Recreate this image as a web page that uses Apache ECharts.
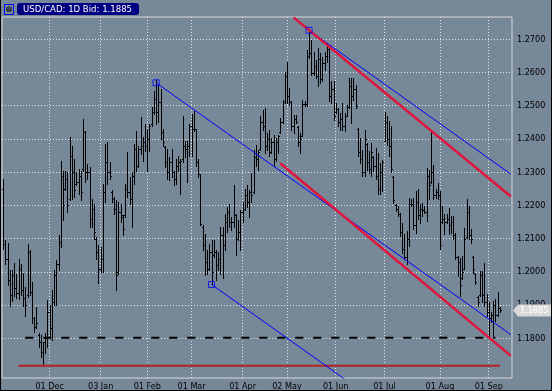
<!DOCTYPE html>
<html><head><meta charset="utf-8">
<script src="https://cdn.jsdelivr.net/npm/echarts@6/dist/echarts.min.js"></script>
<style>html,body{margin:0;padding:0;background:#778899;}#c{width:552px;height:391px;}</style>
</head><body><div id="c"></div>
<script>
// ---- data (USD/CAD daily, one entry per trading-day slot) ----
const opens = [
1.2250,1.2085,1.2040,1.1975,1.1930,1.1990,1.1950,1.1935,1.2010,1.1945,
1.1920,1.1930,1.2060,1.1940,1.1860,1.1835,1.1810,1.1790,1.1760,1.1790,
1.1800,1.1880,1.1830,1.1910,1.1990,1.2025,1.2090,1.2290,1.2250,1.2280,
1.2220,1.2350,1.2300,1.2265,1.2270,1.2290,1.2310,1.2420,1.2300,1.2300,
1.2160,1.2190,1.2100,1.2060,1.2010,1.2040,1.2240,1.2330,1.2300,1.2240,
1.2220,1.2190,1.2000,1.2180,1.2165,1.2170,1.2250,1.2240,1.2220,1.2290,
1.2370,1.2320,1.2370,1.2380,1.2390,1.2380,1.2400,1.2445,1.2480,1.2520,
1.2480,1.2510,1.2420,1.2375,1.2330,1.2300,1.2330,1.2300,1.2280,1.2320,
1.2330,1.2340,1.2380,1.2370,1.2380,1.2440,1.2430,1.2430,1.2330,1.2295,
1.2135,1.2080,1.2030,1.2010,1.2060,1.2050,1.2060,1.2020,1.2040,1.2110,
1.2080,1.2150,1.2180,1.2150,1.2150,1.2170,1.2100,1.2120,1.2180,1.2190,
1.2230,1.2210,1.2240,1.2240,1.2345,1.2340,1.2370,1.2450,1.2440,1.2380,
1.2400,1.2360,1.2390,1.2340,1.2390,1.2420,1.2450,1.2510,1.2590,1.2530,
1.2510,1.2440,1.2460,1.2435,1.2390,1.2410,1.2505,1.2505,1.2650,1.2660,
1.2600,1.2620,1.2590,1.2640,1.2580,1.2630,1.2650,1.2670,1.2530,1.2550,
1.2480,1.2490,1.2450,1.2460,1.2440,1.2470,1.2495,1.2560,1.2530,1.2550,
1.2430,1.2360,1.2340,1.2300,1.2385,1.2330,1.2310,1.2345,1.2320,1.2290,
1.2250,1.2300,1.2395,1.2450,1.2400,1.2380,1.2285,1.2200,1.2190,1.2175,
1.2120,1.2070,1.2045,1.2100,1.2205,1.2205,1.2140,1.2210,1.2170,1.2190,
1.2185,1.2180,1.2290,1.2270,1.2300,1.2230,1.2240,1.2230,1.2150,1.2160,
1.2150,1.2160,1.2140,1.2150,1.2110,1.2045,1.2030,1.1980,1.2010,1.2105,
1.2180,1.2110,1.2045,1.1995,1.1925,1.1930,1.1990,1.1930,1.1910,1.1880,
1.1860,1.1870,1.1900,1.1870,1.1890];
const highs = [
1.2280,1.2095,1.2087,1.2005,1.2005,1.2027,1.1995,1.2040,1.2025,1.1997,
1.1955,1.2085,1.2065,1.1970,1.1865,1.1895,1.1815,1.1810,1.1790,1.1815,
1.1915,1.1900,1.1945,1.2005,1.2035,1.2110,1.2335,1.2305,1.2305,1.2300,
1.2405,1.2380,1.2340,1.2300,1.2310,1.2305,1.2460,1.2425,1.2325,1.2315,
1.2220,1.2205,1.2105,1.2080,1.2075,1.2265,1.2385,1.2390,1.2330,1.2245,
1.2225,1.2215,1.2210,1.2205,1.2170,1.2265,1.2360,1.2285,1.2300,1.2385,
1.2425,1.2380,1.2465,1.2405,1.2445,1.2430,1.2445,1.2495,1.2545,1.2577,
1.2565,1.2550,1.2430,1.2380,1.2370,1.2345,1.2370,1.2305,1.2340,1.2350,
1.2340,1.2470,1.2395,1.2395,1.2445,1.2475,1.2485,1.2430,1.2340,1.2295,
1.2140,1.2115,1.2065,1.2085,1.2095,1.2095,1.2065,1.2060,1.2135,1.2135,
1.2175,1.2195,1.2205,1.2165,1.2260,1.2175,1.2155,1.2185,1.2210,1.2250,
1.2260,1.2245,1.2298,1.2368,1.2383,1.2368,1.2468,1.2488,1.2493,1.2418,
1.2428,1.2403,1.2413,1.2403,1.2413,1.2463,1.2518,1.2603,1.2633,1.2553,
1.2513,1.2473,1.2473,1.2438,1.2418,1.2518,1.2513,1.2668,1.2728,1.2698,
1.2663,1.2638,1.2673,1.2658,1.2648,1.2663,1.2688,1.2678,1.2573,1.2573,
1.2508,1.2493,1.2478,1.2508,1.2478,1.2503,1.2583,1.2583,1.2583,1.2563,
1.2433,1.2403,1.2368,1.2428,1.2388,1.2363,1.2388,1.2348,1.2373,1.2358,
1.2328,1.2338,1.2480,1.2470,1.2455,1.2440,1.2288,1.2203,1.2198,1.2178,
1.2148,1.2113,1.2123,1.2223,1.2218,1.2223,1.2243,1.2248,1.2203,1.2208,
1.2198,1.2313,1.2308,1.2423,1.2323,1.2248,1.2268,1.2243,1.2198,1.2173,
1.2173,1.2193,1.2168,1.2168,1.2118,1.2048,1.2043,1.2048,1.2133,1.2218,
1.2198,1.2128,1.2048,1.1998,1.1928,1.2003,1.2003,1.2028,1.1933,1.1908,
1.1878,1.1913,1.1918,1.1938,1.1893];
const lows = [
1.2070,1.2025,1.1960,1.1897,1.1913,1.1927,1.1920,1.1917,1.1930,1.1897,
1.1867,1.1925,1.1930,1.1845,1.1820,1.1830,1.1775,1.1745,1.1720,1.1755,
1.1775,1.1800,1.1795,1.1900,1.1900,1.2005,1.2075,1.2155,1.2245,1.2180,
1.2215,1.2220,1.2225,1.2260,1.2235,1.2215,1.2305,1.2270,1.2280,1.2135,
1.2135,1.2100,1.2040,1.1965,1.2000,1.2000,1.2210,1.2265,1.2280,1.2210,
1.2175,1.1945,1.1995,1.2150,1.2110,1.2165,1.2225,1.2205,1.2135,1.2265,
1.2305,1.2315,1.2355,1.2335,1.2365,1.2305,1.2365,1.2440,1.2475,1.2445,
1.2450,1.2400,1.2380,1.2315,1.2280,1.2275,1.2285,1.2260,1.2265,1.2305,
1.2235,1.2330,1.2345,1.2270,1.2350,1.2350,1.2425,1.2320,1.2285,1.2140,
1.2065,1.1990,1.1995,1.2005,1.1962,1.2045,1.1975,1.2005,1.1995,1.1980,
1.2065,1.2120,1.2135,1.2125,1.2135,1.2050,1.2095,1.2065,1.2150,1.2185,
1.2195,1.2165,1.2210,1.2238,1.2318,1.2308,1.2368,1.2428,1.2358,1.2368,
1.2348,1.2358,1.2318,1.2333,1.2358,1.2418,1.2448,1.2508,1.2508,1.2503,
1.2428,1.2418,1.2448,1.2378,1.2358,1.2408,1.2498,1.2498,1.2643,1.2593,
1.2593,1.2583,1.2558,1.2568,1.2573,1.2608,1.2633,1.2513,1.2508,1.2458,
1.2478,1.2438,1.2428,1.2428,1.2423,1.2468,1.2493,1.2448,1.2518,1.2493,
1.2348,1.2328,1.2288,1.2288,1.2308,1.2298,1.2288,1.2303,1.2278,1.2233,
1.2233,1.2243,1.2393,1.2383,1.2348,1.2300,1.2208,1.2183,1.2168,1.2108,
1.2058,1.2038,1.2023,1.2078,1.2198,1.2128,1.2118,1.2158,1.2148,1.2168,
1.2178,1.2153,1.2218,1.2268,1.2218,1.2223,1.2218,1.2068,1.2148,1.2113,
1.2148,1.2113,1.2118,1.2098,1.2040,1.1988,1.1928,1.1978,1.2008,1.2103,
1.2098,1.2088,1.1998,1.1963,1.1898,1.1928,1.1908,1.1898,1.1868,1.1808,
1.1848,1.1808,1.1853,1.1868,1.1880];
const closes = [
1.2085,1.2040,1.1975,1.1930,1.1990,1.1950,1.1935,1.2010,1.1945,1.1920,
1.1900,1.2060,1.1940,1.1860,1.1835,1.1845,1.1790,1.1760,1.1790,1.1800,
1.1880,1.1830,1.1910,1.1990,1.2025,1.2090,1.2290,1.2200,1.2280,1.2200,
1.2350,1.2300,1.2245,1.2270,1.2290,1.2240,1.2420,1.2300,1.2300,1.2160,
1.2190,1.2120,1.2060,1.2010,1.2040,1.2240,1.2330,1.2300,1.2290,1.2220,
1.2190,1.1990,1.2180,1.2170,1.2130,1.2250,1.2240,1.2220,1.2290,1.2370,
1.2320,1.2370,1.2380,1.2390,1.2380,1.2400,1.2440,1.2480,1.2520,1.2480,
1.2510,1.2420,1.2390,1.2330,1.2300,1.2330,1.2300,1.2280,1.2320,1.2330,
1.2335,1.2380,1.2370,1.2380,1.2440,1.2430,1.2430,1.2330,1.2295,1.2145,
1.2080,1.2030,1.2010,1.2060,1.2000,1.2060,1.2020,1.2040,1.2110,1.2080,
1.2150,1.2180,1.2150,1.2150,1.2170,1.2100,1.2120,1.2180,1.2190,1.2230,
1.2210,1.2240,1.2230,1.2345,1.2340,1.2360,1.2450,1.2440,1.2380,1.2400,
1.2360,1.2390,1.2340,1.2390,1.2410,1.2450,1.2510,1.2590,1.2530,1.2510,
1.2440,1.2460,1.2450,1.2390,1.2400,1.2505,1.2505,1.2650,1.2660,1.2600,
1.2620,1.2590,1.2640,1.2580,1.2630,1.2650,1.2670,1.2530,1.2550,1.2470,
1.2490,1.2450,1.2460,1.2440,1.2470,1.2495,1.2560,1.2530,1.2550,1.2500,
1.2360,1.2340,1.2300,1.2400,1.2330,1.2310,1.2360,1.2320,1.2290,1.2250,
1.2300,1.2330,1.2450,1.2400,1.2380,1.2310,1.2215,1.2190,1.2175,1.2120,
1.2070,1.2045,1.2100,1.2205,1.2205,1.2140,1.2210,1.2170,1.2190,1.2185,
1.2180,1.2290,1.2260,1.2300,1.2230,1.2240,1.2230,1.2080,1.2160,1.2150,
1.2160,1.2140,1.2150,1.2110,1.2045,1.2030,1.1960,1.2000,1.2100,1.2180,
1.2110,1.2100,1.2010,1.1970,1.1910,1.1990,1.1930,1.1910,1.1880,1.1860,
1.1870,1.1900,1.1870,1.1890,1.1885];

const slotCount = 230;                       // trading-day slots on the x axis
const slots = Array.from({length: slotCount}, (_, i) => String(i));
const xTickIndex  = [21, 44, 65, 85, 108, 128, 150, 172, 197, 219];
const xTickLabels = ['01 Dec','03 Jan','01 Feb','01 Mar','01 Apr','02 May','01 Jun','01 Jul','01 Aug','01 Sep'];
const yTickValues = [1.18, 1.19, 1.20, 1.21, 1.22, 1.23, 1.24, 1.25, 1.26, 1.27];
const yMin = 1.16805, yMax = 1.27671;
const lastBid = 1.1885;

// drawn studies: [slot, price] endpoints
const blueLines = [
  [[69, 1.2569], [229, 1.1811]],
  [[94, 1.1962], [160, 1.1649]],
  [[138, 1.2727], [229, 1.2294]]
];
const redLines = [
  [[131, 1.2766], [229, 1.2227]],
  [[125, 1.2327], [229, 1.1747]]
];
const anchorPoints = [[69, 1.2569], [94, 1.1962], [138, 1.2727]];
const supportLine = [[10, 1.1802], [222, 1.1802]];
const lowLine = [[7, 1.17175], [224, 1.17175]];

// ---- chart ----
const FONT = "'DejaVu Sans Condensed','Liberation Sans Narrow','Liberation Sans',sans-serif";
const chart = echarts.init(document.getElementById('c'), null, {renderer: 'canvas'});

function renderOHLC(params, api) {
  const i = api.value(0);
  const pO = api.coord([i, api.value(1)]);
  const pH = api.coord([i, api.value(2)]);
  const pL = api.coord([i, api.value(3)]);
  const pC = api.coord([i, api.value(4)]);
  const x = Math.round(pH[0]) + 0.5;
  const yh = Math.round(pH[1]);
  const yl = Math.max(Math.round(pL[1]), yh + 1) + 1;
  const yo = Math.round(pO[1]) + 0.5, yc = Math.round(pC[1]) + 0.5;
  const s = {stroke: '#000', lineWidth: 1};
  return {type: 'group', children: [
    {type: 'line', shape: {x1: x, y1: yh, x2: x, y2: yl}, style: s},
    {type: 'line', shape: {x1: x - 1.5, y1: yo, x2: x, y2: yo}, style: s},
    {type: 'line', shape: {x1: x, y1: yc, x2: x + 1.5, y2: yc}, style: s}
  ]};
}

// last-bid tag on the price axis, placed through the axis scale
function renderBidTag(params, api) {
  const p = api.coord([api.value(0), api.value(1)]);
  const cs = params.coordSys;
  const x0 = cs.x + cs.width + 1;
  const y = Math.round(p[1]) + 0.5;
  return {type: 'group', children: [
    {type: 'polygon', shape: {points: [[x0, y], [x0 + 5, y - 6], [551, y - 6], [551, y + 6], [x0 + 5, y + 6]]},
     style: {fill: '#d9d9d9'}},
    {type: 'text', x: x0 + 7, y: y, style: {text: lastBid.toFixed(4), fill: '#ffffff',
      font: '9px ' + FONT, verticalAlign: 'middle', align: 'left'}}
  ]};
}

const ohlcData = opens.map((o, i) => [i, o, highs[i], lows[i], closes[i]]);

function segSeries(pts, color, width, type, z) {
  return {type: 'line', data: pts, showSymbol: false, symbol: 'none', silent: true, z: z,
    lineStyle: {color: color, width: width, type: type || 'solid'}, clip: true};
}

const series = [
  {type: 'line', data: [], silent: true, z: 1, clip: false,
   markLine: {silent: true, symbol: ['none', 'none'], z: 1, animation: false,
     label: {show: false},
     data: yTickValues.map(v => ({yAxis: v,
        lineStyle: {color: '#e4e4e4', width: 1, type: [1, 2]}}))
   }},
  {type: 'custom', renderItem: renderOHLC, data: ohlcData, z: 3,
   encode: {x: 0, y: [1, 2, 3, 4]}, silent: true, clip: true},
  segSeries(supportLine, '#000000', 2, [8, 10], 4),
  segSeries(lowLine, '#b22222', 2, 'solid', 4)
];
blueLines.forEach(l => series.push(segSeries(l, '#0000ff', 1, 'solid', 5)));
redLines.forEach(l => series.push(segSeries(l, '#e0143c', 2.5, 'solid', 5)));
series.push({type: 'scatter', data: anchorPoints, symbol: 'rect', symbolSize: 6, z: 6, silent: true,
  itemStyle: {color: 'rgba(0,0,0,0)', borderColor: '#0000ff', borderWidth: 1}});
series.push({type: 'custom', renderItem: renderBidTag, data: [[opens.length - 1, lastBid]], z: 20,
  silent: true, clip: false, encode: {x: 0, y: 1}});

chart.setOption({
  animation: false,
  backgroundColor: '#778899',
  title: {text: 'USD/CAD: 1D Bid: 1.1885', left: 17, top: 3, padding: [1, 7, 0, 6],
    backgroundColor: '#000080', borderRadius: 3,
    textStyle: {color: '#ffffff', fontSize: 9.5, fontWeight: 'normal', fontFamily: FONT, lineHeight: 11}},
  grid: {left: 2, right: 40, top: 17, bottom: 13, show: true, borderColor: '#d8d8d8', borderWidth: 1,
    backgroundColor: 'transparent'},
  xAxis: {type: 'category', data: slots, boundaryGap: true,
    axisLine: {show: false}, axisTick: {show: false, alignWithLabel: true},
    axisLabel: {interval: (i) => xTickIndex.indexOf(i) >= 0,
      formatter: (v, i) => { const k = xTickIndex.indexOf(Number(v)); return k >= 0 ? xTickLabels[k] : ''; },
      color: '#000', fontSize: 9, fontFamily: FONT, margin: 4},
    splitLine: {show: true, alignWithLabel: true, interval: (i) => xTickIndex.indexOf(i) >= 0,
      lineStyle: {color: '#e4e4e4', width: 1, type: [1, 2]}}},
  yAxis: {type: 'value', position: 'right', min: yMin, max: yMax, splitNumber: 10, scale: true,
    axisLine: {show: false}, axisTick: {show: false}, splitLine: {show: false},
    axisLabel: {customValues: yTickValues,
      formatter: (v) => yTickValues.some(t => Math.abs(t - v) < 1e-6) ? v.toFixed(4) : '',
      color: '#000', fontSize: 9, fontFamily: FONT, margin: 5}},
  graphic: [
    {type: 'polyline', shape: {points: [[0.5, 0], [0.5, 390.5], [551.5, 390.5], [551.5, 0]]},
     style: {stroke: '#000', lineWidth: 1, fill: null}, silent: true},
    {type: 'rect', shape: {x: 4.5, y: 4.5, width: 9, height: 10}, style: {stroke: '#0000ff', fill: null, lineWidth: 1}, silent: true},
    {type: 'polyline', shape: {points: [[7, 7], [7, 11], [11, 11], [11, 7]]}, style: {stroke: '#000', lineWidth: 1, fill: null}, silent: true},
    {type: 'line', shape: {x1: 9, y1: 6, x2: 9, y2: 10}, style: {stroke: '#000', lineWidth: 1}, silent: true}
  ],
  series: series
});
</script></body></html>
